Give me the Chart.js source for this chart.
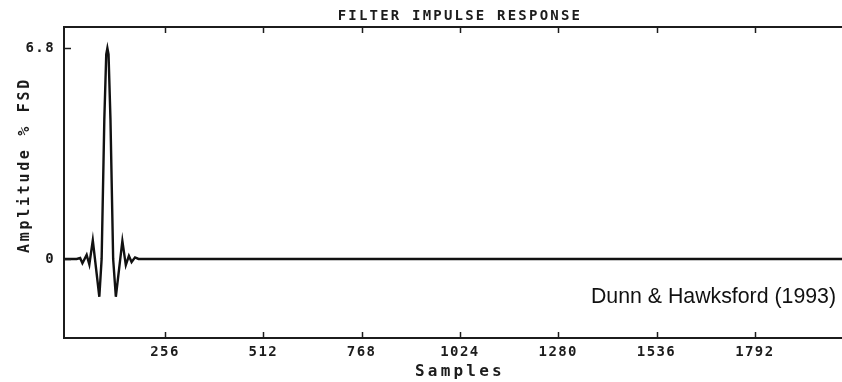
<!DOCTYPE html>
<html><head><meta charset="utf-8">
<script src="https://cdn.jsdelivr.net/npm/chart.js@4.4.1/dist/chart.umd.min.js"></script>
<style>html,body{margin:0;padding:0;background:#fff;} #wrap{width:842px;height:382px;}</style>
</head><body><div id="wrap"><canvas id="c" width="842" height="382"></canvas></div>
<script>
const chartTitle = 'FILTER IMPULSE RESPONSE';
const xAxisTitle = 'Samples';
const yAxisTitle = 'Amplitude % FSD';
const sourceNote = 'Dunn & Hawksford (1993)';
const sampleIndex = [-7, 10, 26, 35, 41, 52, 59, 68, 85, 91, 98, 103, 106, 109, 114, 121, 128, 145, 154, 162, 169, 178, 187, 2019];
const amplitude   = [0, 0, 0, 0.03, -0.14, 0.13, -0.18, 0.6, -1.22, 0, 4.5, 6.6, 6.8, 6.6, 4.5, 0, -1.22, 0.58, -0.2, 0.1, -0.1, 0.05, 0, 0];
const xTickValues = [256, 512, 768, 1024, 1280, 1536, 1792];
const yTickValues = [0, 6.8];
const yTickLabels = ['0', '6.8'];
const xRange = [-7, 2019];
const yRange = [-2.55, 7.48];

const INK = '#1c1c1c';
const MONO = '"DejaVu Sans Mono", monospace';

const points = sampleIndex.map((s, i) => ({ x: s, y: amplitude[i] }));

const plotterPlugin = {
  id: 'plotter',
  beforeDraw(chart) { chart.ctx.letterSpacing = '1.4px'; },
  beforeDatasetsDraw(chart) { chart.ctx.letterSpacing = '0px'; },
  afterDraw(chart) {
    const { ctx, chartArea: a, scales: { x, y } } = chart;
    ctx.save();
    ctx.strokeStyle = INK;
    ctx.lineWidth = 2;
    ctx.beginPath(); ctx.moveTo(a.left - 1, a.top); ctx.lineTo(a.right, a.top); ctx.stroke();
    ctx.lineWidth = 1.5;
    xTickValues.forEach(v => {
      const px = Math.round(x.getPixelForValue(v)) + 0.5;
      ctx.beginPath(); ctx.moveTo(px, a.bottom); ctx.lineTo(px, a.bottom - 6); ctx.stroke();
      ctx.beginPath(); ctx.moveTo(px, a.top); ctx.lineTo(px, a.top + 6); ctx.stroke();
    });
    yTickValues.forEach(v => {
      const py = Math.round(y.getPixelForValue(v)) + 0.5;
      ctx.beginPath(); ctx.moveTo(a.left, py); ctx.lineTo(a.left + 7, py); ctx.stroke();
    });
    ctx.fillStyle = INK;
    ctx.textAlign = 'center';
    ctx.textBaseline = 'middle';
    const cx = x.getPixelForValue(1024);
    ctx.font = `bold 14px ${MONO}`;
    ctx.letterSpacing = '2.2px';
    ctx.fillText(chartTitle, cx, 16);
    ctx.font = `bold 16px ${MONO}`;
    ctx.letterSpacing = '3.2px';
    ctx.fillText(xAxisTitle, cx, 372);
    ctx.save();
    ctx.translate(25, 165);
    ctx.rotate(-Math.PI / 2);
    ctx.font = `bold 15px ${MONO}`;
    ctx.letterSpacing = '2.7px';
    ctx.fillText(yAxisTitle, 0, 0);
    ctx.restore();
    ctx.letterSpacing = '0px';
    ctx.font = '21.3px "Liberation Sans", Arial, sans-serif';
    ctx.textAlign = 'right';
    ctx.textBaseline = 'alphabetic';
    ctx.fillStyle = '#111';
    ctx.fillText(sourceNote, 836, 303);
    ctx.restore();
  }
};

new Chart(document.getElementById('c'), {
  type: 'line',
  data: {
    datasets: [{
      data: points,
      borderColor: '#111',
      borderWidth: 2.4,
      pointRadius: 0,
      tension: 0,
      fill: false
    }]
  },
  options: {
    responsive: false,
    animation: false,
    devicePixelRatio: 1,
    layout: { padding: { top: 27, right: 0, left: 0, bottom: 0 } },
    plugins: { legend: { display: false }, tooltip: { enabled: false }, title: { display: false } },
    scales: {
      x: {
        type: 'linear',
        min: xRange[0], max: xRange[1],
        afterBuildTicks: s => { s.ticks = xTickValues.map(v => ({ value: v })); },
        afterFit: s => { s.height = 44; },
        ticks: { font: { family: MONO, size: 14, weight: 'bold' }, color: INK, padding: 6, maxRotation: 0, autoSkip: false, callback: v => String(v) },
        grid: { display: true, drawOnChartArea: false, drawTicks: false },
        border: { display: true, color: INK, width: 2 }
      },
      y: {
        type: 'linear',
        min: yRange[0], max: yRange[1],
        afterBuildTicks: s => { s.ticks = yTickValues.map(v => ({ value: v })); },
        afterFit: s => { s.width = 64; },
        ticks: { font: { family: MONO, size: 14, weight: 'bold' }, color: INK, padding: 9, autoSkip: false,
                 callback: v => yTickLabels[yTickValues.indexOf(v)] },
        grid: { display: true, drawOnChartArea: false, drawTicks: false },
        border: { display: true, color: INK, width: 2 }
      }
    }
  },
  plugins: [plotterPlugin]
});
</script>
</body></html>
